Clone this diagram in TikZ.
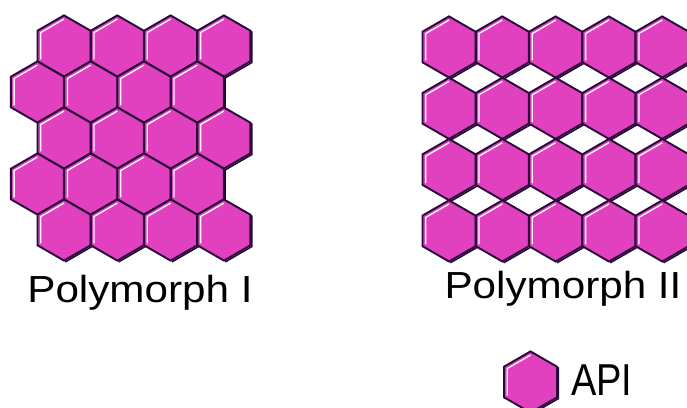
\documentclass[tikz,border=0pt]{standalone}
\usepackage{fontspec}
\setmainfont{Liberation Sans}
\usepackage{tikz}
\usetikzlibrary{positioning}
\definecolor{apipink}{RGB}{225,64,190}
\definecolor{apiedge}{RGB}{40,8,58}
\tikzstyle{hexbody} = [fill=apipink, draw=apiedge, line width=1.9pt, line join=miter]
\tikzstyle{hexshadow} = [draw=apiedge, line width=1.6pt, line join=miter]
\tikzstyle{hexshine} = [draw=white, line width=1.3pt, line join=miter]
\tikzstyle{formlabel} = [anchor=base, inner sep=0pt, xscale=1.12,
font=\fontsize{37.7}{40}\selectfont]
\newcommand{\hexr}{30.6}
% one API molecule, drawn as a hexagon centred at (#1,#2)
\newcommand{\apihex}[2]{%
  \begin{scope}[shift={(#1,#2)}]
    \draw[hexshadow, shift={(1.3,1.3)}] (270:\hexr) -- (330:\hexr) -- (30:\hexr) -- (90:\hexr);
    \draw[hexbody] (30:\hexr) -- (90:\hexr) -- (150:\hexr) -- (210:\hexr)
      -- (270:\hexr) -- (330:\hexr) -- cycle;
    \draw[hexshine] (150:26.9) -- (210:26.9) -- (270:26.9);
  \end{scope}}

\begin{document}
\begin{tikzpicture}[x=1pt, y=-1pt]
    \useasboundingbox (0,0) rectangle (687,407);

    % polymorph I: close packed
    \foreach \row in {0,...,4} {
        \foreach \col in {0,...,3} {
            \pgfmathsetmacro\hx{64+53.3*\col-26.6*mod(\row,2)}
            \pgfmathsetmacro\hy{46+46*\row}
            \apihex{\hx}{\hy}
        }
    }

    % polymorph II: square stacking
    \foreach \row in {0,...,3} {
        \foreach \col in {0,...,4} {
            \pgfmathsetmacro\hx{449+53.3*\col}
            \pgfmathsetmacro\hy{47+61.3*\row}
            \apihex{\hx}{\hy}
        }
    }

    \node (formI)  [formlabel] at (140,302) {Polymorph I};
    \node (formII) [formlabel] at (563,298) {Polymorph II};

    % legend
    \apihex{530.5}{382}
    \node (api) [anchor=base west, inner sep=0pt, xscale=0.85,
        font=\fontsize{44.7}{46}\selectfont] at (571,395) {API};
\end{tikzpicture}
\end{document}
